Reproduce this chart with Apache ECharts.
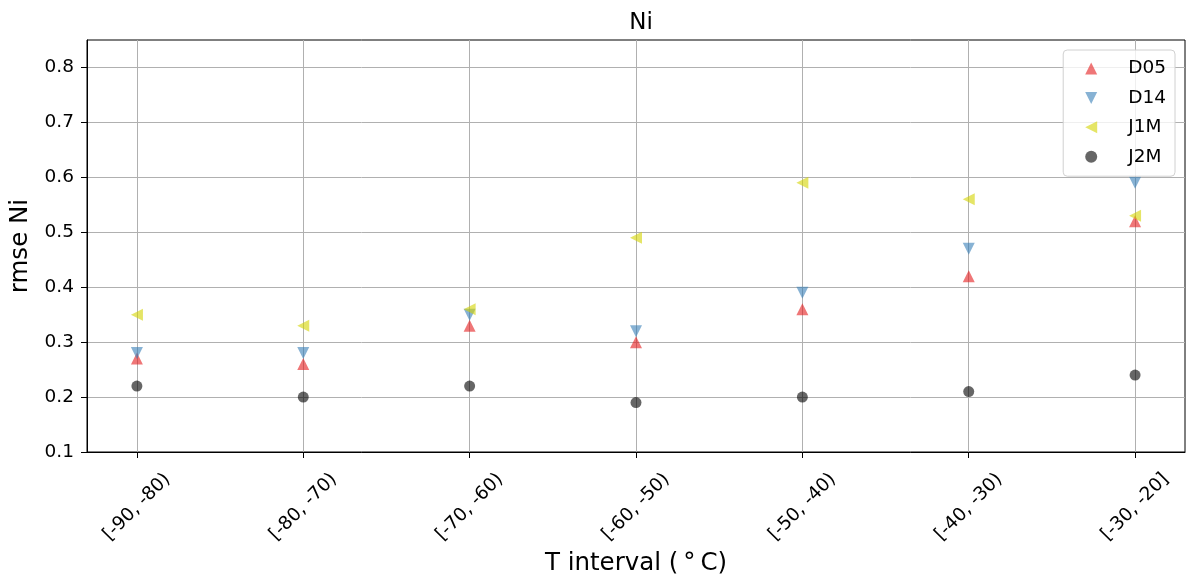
<!DOCTYPE html>
<html>
<head>
<meta charset="utf-8">
<script src="https://cdn.jsdelivr.net/npm/echarts@6/dist/echarts.min.js"></script>
<style>
  html, body { margin: 0; padding: 0; background: #fff; }
  #chart { width: 1186px; height: 579px; }
</style>
</head>
<body>
<div id="chart"></div>
<script>
// values
const categories = ['[-90, -80)', '[-80, -70)', '[-70, -60)', '[-60, -50)', '[-50, -40)', '[-40, -30)', '[-30, -20]'];
const d05 = [0.27, 0.26, 0.33, 0.30, 0.36, 0.42, 0.52];
const d14 = [0.28, 0.28, 0.35, 0.32, 0.39, 0.47, 0.59];
const j1m = [0.35, 0.33, 0.36, 0.49, 0.59, 0.56, 0.53];
const j2m = [0.22, 0.20, 0.22, 0.19, 0.20, 0.21, 0.24];
const yTicks = [0.1, 0.2, 0.3, 0.4, 0.5, 0.6, 0.7, 0.8];

const font = 'DejaVu Sans';
const xPositions = categories.map((c, i) => i);
const toPoints = (arr) => arr.map((v, i) => [i, v]);

// marker shapes (matplotlib ^ v < o)
const triUp = 'path://M5,0 L10,10 L0,10 Z';
const triDown = 'path://M0,0 L10,0 L5,10 Z';
const triLeft = 'path://M10,0 L10,10 L0,5 Z';

const chart = echarts.init(document.getElementById('chart'));

const mk = (name, data, color, symbol, size) => ({
  name: name,
  type: 'scatter',
  data: toPoints(data),
  symbol: symbol,
  symbolSize: size,
  itemStyle: { color: color, opacity: 0.6 },
  emphasis: { disabled: true }
});

chart.setOption({
  animation: false,
  title: {
    text: 'Ni',
    left: 636,
    textAlign: 'center',
    top: 7,
    textStyle: { fontFamily: font, fontSize: 23, fontWeight: 'normal', color: '#000' }
  },
  grid: {
    left: 87, right: 1, top: 40, bottom: 127,
    outerBoundsMode: 'none',
    show: true, borderColor: '#000', borderWidth: 1
  },
  legend: {
    orient: 'vertical',
    right: 11,
    top: 50,
    padding: [9, 9, 10, 22],
    itemWidth: 12,
    itemHeight: 12,
    itemGap: 10.4,
    backgroundColor: 'rgba(255,255,255,0.8)',
    borderColor: '#d0d0d0',
    borderWidth: 1,
    borderRadius: 4,
    textStyle: { fontFamily: font, fontSize: 18.5, color: '#000', lineHeight: 19, padding: [0, 0, 0, 26] },
    data: ['D05', 'D14', 'J1M', 'J2M']
  },
  xAxis: {
    type: 'value',
    min: -0.3,
    max: 6.3,
    name: 'T interval (\u2009\u00B0\u2009C)',
    nameLocation: 'middle',
    nameGap: 97,
    nameTextStyle: { fontFamily: font, fontSize: 24.5, color: '#000' },
    axisLine: { show: true, onZero: false, lineStyle: { color: '#000', width: 1 } },
    axisTick: { show: true, length: 6, lineStyle: { color: '#000' }, customValues: xPositions },
    axisLabel: {
      customValues: xPositions,
      rotate: 45,
      align: 'center',
      verticalAlign: 'middle',
      margin: 55,
      fontFamily: font,
      fontSize: 18.5,
      color: '#000',
      formatter: (v) => categories[Math.round(v)]
    },
    splitLine: { show: true, lineStyle: { color: '#b0b0b0', width: 1 } }
  },
  yAxis: {
    type: 'value',
    min: 0.1,
    max: 0.85,
    name: 'rmse Ni',
    nameLocation: 'middle',
    nameGap: 54,
    nameTextStyle: { fontFamily: font, fontSize: 24.5, color: '#000' },
    axisLine: { show: true, onZero: false, lineStyle: { color: '#000', width: 1 } },
    axisTick: { show: true, length: 6, lineStyle: { color: '#000' }, customValues: yTicks },
    axisLabel: {
      customValues: yTicks,
      margin: 13,
      fontFamily: font,
      fontSize: 18.5,
      color: '#000',
      formatter: (v) => v.toFixed(1)
    },
    splitLine: { show: true, lineStyle: { color: '#b0b0b0', width: 1 } }
  },
  series: [
    mk('D05', d05, '#e41a1c', triUp, 12),
    mk('D14', d14, '#377eb8', triDown, 12),
    mk('J1M', j1m, '#d4d400', triLeft, 12),
    mk('J2M', j2m, '#000000', 'circle', 11)
  ]
});
</script>
</body>
</html>
